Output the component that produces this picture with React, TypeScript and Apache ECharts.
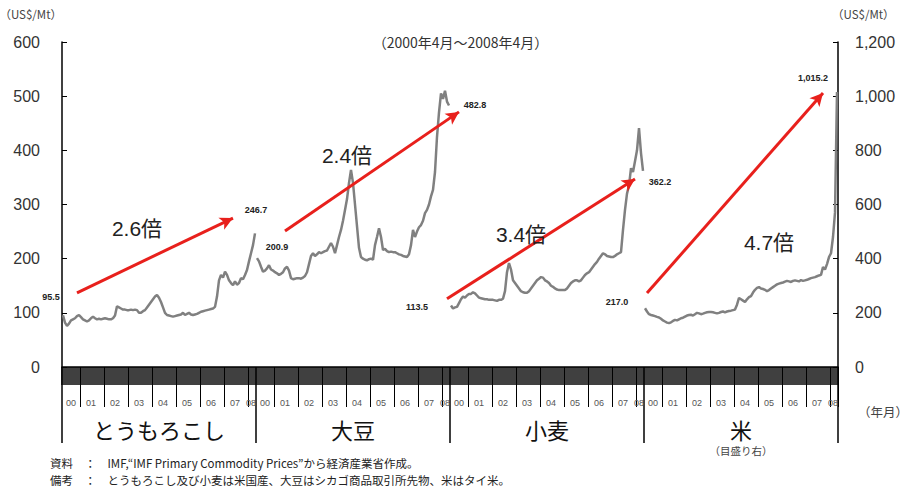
import React, { useEffect, useRef } from 'react';
import * as echarts from 'echarts';

// ---- categories: four commodities, each 2000/04 .. 2008/04 (monthly) ----
const commodities = ['とうもろこし', '大豆', '小麦', '米'];
const sectionNotes = ['', '', '', '（目盛り右）'];
const months: string[] = [];
for (let y = 2000; y <= 2008; y++) {
  for (let m = 1; m <= 12; m++) {
    if ((y === 2000 && m < 4) || (y === 2008 && m > 4)) continue;
    months.push(`${y}/${String(m).padStart(2, '0')}`);
  }
}
const N = months.length; // 97
const categories = commodities.flatMap((c) => months.map((m) => `${c} ${m}`));

// ---- monthly prices (US$/Mt) ----
const cornPrices = [
  95.5, 82, 76, 80, 86, 88, 90, 94, 96,
  92, 88, 86, 84, 86, 90, 93, 90, 88, 89, 88, 89,
  90, 89, 88, 88, 90, 95, 112, 110, 108, 106, 106, 105,
  105, 106, 105, 106, 105, 100, 100, 103, 105, 110, 115, 120,
  125, 130, 133, 128, 120, 110, 100, 96, 95, 94, 93, 94,
  95, 96, 97, 100, 96, 98, 100, 97, 96, 97, 98, 100,
  102, 103, 104, 105, 106, 107, 108, 111, 130, 160, 170, 165,
  176, 170, 160, 155, 151, 158, 152, 155, 164, 162, 170, 179,
  195, 210, 225, 246.7,
];
const soybeanPrices = [
  200.9, 195, 185, 176, 178, 182, 188, 180, 178,
  175, 173, 170, 172, 175, 182, 185, 178, 164, 162, 163, 164,
  164, 163, 165, 168, 175, 190, 205, 210, 205, 208, 212, 210,
  212, 214, 215, 222, 229, 222, 210, 225, 240, 253, 270, 290,
  310, 340, 364, 340, 300, 260, 220, 203, 200, 198, 197, 199,
  200, 198, 225, 240, 256, 240, 216, 218, 214, 212, 213, 212,
  212, 210, 208, 207, 205, 204, 203, 208, 225, 253, 240, 250,
  258, 262, 270, 284, 290, 300, 315, 327, 360, 425, 470, 505,
  495, 510, 490, 482.8,
];
const wheatPrices = [
  113.5, 108, 110, 111, 118, 125, 130, 128, 132,
  135, 135, 138, 136, 132, 128, 127, 126, 125, 125, 124, 124,
  124, 123, 122, 124, 124, 126, 140, 175, 192, 180, 160, 155,
  150, 145, 140, 138, 137, 137, 140, 145, 150, 155, 160, 163,
  166, 165, 160, 158, 155, 150, 148, 145, 143, 142, 142, 142,
  142, 145, 150, 155, 158, 160, 160, 158, 160, 165, 170, 173,
  175, 180, 185, 190, 194, 200, 205, 210, 208, 205, 204, 203,
  203, 205, 208, 210, 212, 253, 290, 320, 335, 367, 360, 380,
  400, 441, 395, 362.2,
];
const ricePrices = [
  217.0, 205, 195, 192, 190, 188, 185, 183, 178,
  172, 168, 164, 162, 165, 170, 174, 172, 176, 180, 182, 186,
  190, 192, 193, 190, 195, 200, 198, 195, 197, 200, 202, 203,
  203, 202, 200, 198, 200, 203, 205, 202, 205, 207, 208, 210,
  212, 230, 255, 250, 245, 240, 250, 258, 262, 275, 285, 292,
  295, 290, 288, 285, 280, 284, 290, 295, 300, 305, 308, 310,
  312, 315, 318, 316, 314, 318, 320, 318, 316, 321, 318, 320,
  322, 325, 328, 330, 332, 335, 338, 340, 369, 360, 380, 406,
  420, 480, 570, 1015.2,
];

// growth arrows (category index, value on the series' own axis)
const growthLabels = ['2.6倍', '2.4倍', '3.4倍', '4.7倍'];
const arrowFrom = [[7, 137], [111, 251], [192, 126], [292, 273]];
const arrowTo = [[85, 275], [198, 471], [286, 347], [380, 1012]];
const growthLabelAt = [[37, 255], [142, 391], [229, 244], [353, 458]];
// offsets of the start / end price labels from their points (px)
const startLabelOffset = [[-12, -18], [20, -11], [-34, 1], [-28, -6]];
const endLabelOffset = [[1, -23], [26, 0], [17, 11], [-24, -14]];

const leftAxis = { min: 0, max: 600, interval: 100 };
const rightAxis = { min: 0, max: 1200, interval: 200 };

const yearLabelIdx = [4, 14, 26, 38, 50, 62, 74, 86, 94];

const seriesValues = [cornPrices, soybeanPrices, wheatPrices, ricePrices];
const seriesAxis = [0, 0, 0, 1];

const footnotes = [
  '資料　：　IMF,“IMF Primary Commodity Prices”から経済産業省作成。',
  '備考　：　とうもろこし及び小麦は米国産、大豆はシカゴ商品取引所先物、米はタイ米。',
];

const FONT = "'Liberation Sans', 'Noto Sans CJK JP', sans-serif";
const JFONT = "'Noto Sans CJK JP', sans-serif";

function fmt(v: number) {
  return v.toLocaleString('en-US', { minimumFractionDigits: 1, maximumFractionDigits: 1 });
}

function placeInSection(values: number[], s: number) {
  const arr: (number | null)[] = new Array(categories.length).fill(null);
  values.forEach((v, i) => {
    arr[s * N + i] = v;
  });
  return arr;
}

export default function App() {
  const ref = useRef<HTMLDivElement>(null);
  useEffect(() => {
    if (!ref.current) return;
    const chart = echarts.init(ref.current, null, { renderer: 'svg' });

    const series = seriesValues.map((vals, s) => ({
      type: 'line',
      name: commodities[s],
      xAxisIndex: 0,
      yAxisIndex: seriesAxis[s],
      data: placeInSection(vals, s),
      symbol: 'none',
      silent: true,
      lineStyle: { color: '#808080', width: 2.5 },
      markLine: {
        silent: true,
        symbol: ['none', 'arrow'],
        symbolSize: [10, 13],
        lineStyle: { color: '#e8201c', width: 3, type: 'solid' },
        label: { show: false },
        emphasis: { disabled: true },
        data: [[{ coord: arrowFrom[s] }, { coord: arrowTo[s] }]],
      },
      markPoint: {
        silent: true,
        symbol: 'circle',
        symbolSize: 1,
        itemStyle: { color: 'rgba(0,0,0,0)' },
        label: { show: true, position: 'inside', fontFamily: FONT },
        data: [
          {
            coord: [s * N, vals[0]],
            label: { formatter: fmt(vals[0]), offset: startLabelOffset[s], fontSize: 9, fontWeight: 'bold', color: '#222' },
          },
          {
            coord: [s * N + N - 1, vals[N - 1]],
            label: { formatter: fmt(vals[N - 1]), offset: endLabelOffset[s], fontSize: 9, fontWeight: 'bold', color: '#222' },
          },
          {
            coord: growthLabelAt[s],
            label: { formatter: growthLabels[s], fontSize: 21, color: '#222' },
          },
        ],
      },
    }));

    const option: any = {
      animation: false,
      textStyle: { fontFamily: FONT },
      title: [
        {
          text: '（2000年4月～2008年4月）',
          left: 'center',
          top: 30,
          textStyle: { fontSize: 14, fontWeight: 'normal', color: '#333', fontFamily: JFONT },
        },
        {
          text: '（年月）',
          left: 853,
          top: 400,
          textStyle: { fontSize: 12.5, fontWeight: 'normal', color: '#444', fontFamily: JFONT },
        },
        ...footnotes.map((t, i) => ({
          text: t,
          left: 50,
          top: 456 + i * 17,
          padding: 0,
          textStyle: { fontSize: 11.5, lineHeight: 13, fontWeight: 'normal', color: '#222', fontFamily: JFONT },
        })),
      ],
      grid: { left: 62, right: 83, top: 42, bottom: 124, containLabel: false, outerBoundsMode: 'none' },
      xAxis: [
        {
          type: 'category',
          data: categories,
          position: 'bottom',
          boundaryGap: true,
          axisLine: { show: true, lineStyle: { color: '#000', width: 1.5 } },
          axisTick: { show: true, interval: 0, length: 18, lineStyle: { color: '#000', width: 1.5 } },
          axisLabel: { show: false },
          splitLine: { show: false },
        },
        {
          type: 'category',
          data: categories,
          position: 'bottom',
          boundaryGap: true,
          axisLine: { show: false },
          axisTick: {
            show: true,
            interval: (i: number) => {
              const m = i % N;
              return m >= 9 && (m - 9) % 12 === 0;
            },
            length: 40,
            lineStyle: { color: '#000', width: 1 },
          },
          axisLabel: {
            show: true,
            interval: (i: number) => yearLabelIdx.includes(i % N),
            formatter: (v: string) => v.slice(-5, -3),
            margin: 31,
            fontSize: 9,
            color: '#555',
          },
          splitLine: { show: false },
        },
        {
          type: 'category',
          data: categories,
          position: 'bottom',
          boundaryGap: true,
          axisLine: { show: false },
          axisTick: {
            show: true,
            interval: (i: number) => i % N === 0,
            length: 76,
            lineStyle: { color: '#000', width: 1.5 },
          },
          axisLabel: {
            show: true,
            interval: (i: number) => i % N === 48,
            formatter: (v: string, idx: number) => {
              const s = Math.floor(idx / N);
              const note = sectionNotes[s];
              return note ? `{big|${commodities[s]}}\n{small|${note}}` : `{big|${commodities[s]}}`;
            },
            margin: 48,
            rich: {
              big: { fontSize: 22, color: '#111', fontFamily: JFONT, lineHeight: 27 },
              small: { fontSize: 10.5, color: '#444', fontFamily: JFONT, lineHeight: 16 },
            },
          },
          splitLine: { show: false },
        },
      ],
      yAxis: [
        {
          type: 'value',
          position: 'left',
          ...leftAxis,
          name: '（US$/Mt）',
          nameLocation: 'end',
          nameGap: 22,
          nameTextStyle: { align: 'right', fontSize: 11.5, color: '#444', fontFamily: JFONT, padding: [0, 0, 0, 0] },
          axisLine: { show: true, lineStyle: { color: '#000', width: 1.5 } },
          axisTick: { show: true, inside: true, length: 5, lineStyle: { color: '#000' } },
          axisLabel: { margin: 22, fontSize: 16, color: '#333' },
          splitLine: { show: false },
        },
        {
          type: 'value',
          position: 'right',
          ...rightAxis,
          name: '（US$/Mt）',
          nameLocation: 'end',
          nameGap: 22,
          nameTextStyle: { align: 'left', fontSize: 11.5, color: '#444', fontFamily: JFONT, padding: [0, 0, 0, -6] },
          axisLine: { show: true, lineStyle: { color: '#000', width: 1.5 } },
          axisTick: { show: true, inside: true, length: 5, lineStyle: { color: '#000' } },
          axisLabel: {
            margin: 17,
            fontSize: 16,
            color: '#333',
            formatter: (v: number) => v.toLocaleString('en-US'),
          },
          splitLine: { show: false },
        },
      ],
      series,
    };

    chart.setOption(option);
    return () => chart.dispose();
  }, []);

  return (
    <div
      ref={ref}
      style={{ position: 'fixed', left: 0, top: 0, width: 921, height: 491, background: '#fff' }}
    />
  );
}
